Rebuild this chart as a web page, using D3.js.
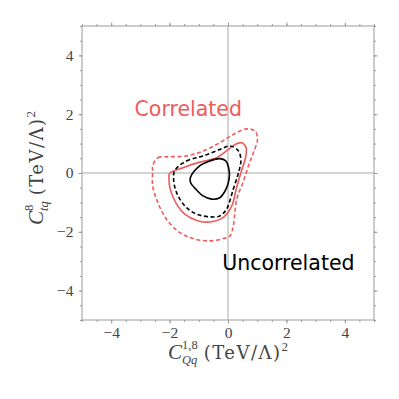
<!DOCTYPE html>
<html><head><meta charset="utf-8">
<script src="https://cdn.jsdelivr.net/npm/d3@7"></script>
<style>body{margin:0;background:#fff}svg{display:block}</style>
</head><body>
<svg id="c" width="399" height="399"></svg>
<script>
const majorTicks = [-4, -2, 0, 2, 4];
const minorTicks = d3.range(-5, 5.01, 0.5);
const labels = [
  {text: "Correlated", x: -3.2, y: 1.95, color: "#f05a5a"},
  {text: "Uncorrelated", x: -0.2, y: -3.3, color: "#000"}
];
// contour traces [x, y]
const blackSolid = [[-1.29,-0.16],[-0.97,0.24],[-0.62,0.41],[-0.28,0.49],[-0.07,0.41],[0.02,0.18],[0.05,-0.05],[0.01,-0.33],[-0.10,-0.61],[-0.28,-0.84],[-0.56,-0.89],[-0.85,-0.78],[-1.10,-0.55],[-1.28,-0.33]];
const blackDashed = [[-1.83,0.07],[-1.42,0.41],[-0.85,0.58],[-0.28,0.80],[0.07,0.92],[0.36,0.75],[0.44,0.41],[0.36,0.01],[0.18,-0.55],[-0.05,-1.23],[-0.28,-1.46],[-0.62,-1.49],[-1.08,-1.40],[-1.42,-1.18],[-1.71,-0.78],[-1.85,-0.33]];
const redSolid = [[-2.0,-0.01],[-1.54,0.18],[-0.97,0.37],[-0.39,0.52],[-0.05,0.75],[0.24,0.97],[0.47,1.03],[0.62,0.86],[0.60,0.52],[0.44,0.01],[0.28,-0.55],[0.13,-1.12],[-0.16,-1.51],[-0.56,-1.66],[-1.02,-1.63],[-1.48,-1.40],[-1.79,-1.01],[-1.98,-0.55],[-2.02,-0.21]];
const redDashed = [[-2.58,0.24],[-2.40,0.52],[-2.0,0.55],[-1.42,0.58],[-0.85,0.75],[-0.28,1.03],[0.18,1.31],[0.64,1.50],[0.93,1.42],[1.01,1.14],[0.87,0.69],[0.70,0.24],[0.51,-0.33],[0.30,-0.89],[0.18,-1.80],[0.07,-2.14],[-0.16,-2.23],[-0.62,-2.31],[-1.20,-2.23],[-1.66,-2.02],[-2.11,-1.57],[-2.40,-1.01],[-2.58,-0.44],[-2.58,0.07]];
const series = [
  {pts: redDashed, color: "#f05a5a", dash: "4,2.6"},
  {pts: redSolid, color: "#f05a5a", dash: null},
  {pts: blackDashed, color: "#000", dash: "4,2.6"},
  {pts: blackSolid, color: "#000", dash: null}
];

const svg = d3.select("#c");
const L = 82, R = 374, T = 26, B = 320;
const x = d3.scaleLinear().domain([-5, 5]).range([L, R]);
const y = d3.scaleLinear().domain([-5, 5]).range([B, T]);
const grey = "#999";

// zero lines
svg.append("line").attr("x1", x(0)).attr("x2", x(0)).attr("y1", T).attr("y2", B).attr("stroke", "#aaa").attr("stroke-width", 1);
svg.append("line").attr("x1", L).attr("x2", R).attr("y1", y(0)).attr("y2", y(0)).attr("stroke", "#aaa").attr("stroke-width", 1);

// contours
const line = d3.line().x(d => x(d[0])).y(d => y(d[1])).curve(d3.curveCatmullRomClosed.alpha(0.5));
series.forEach(s => {
  svg.append("path").attr("d", line(s.pts)).attr("fill", "none")
    .attr("stroke", s.color).attr("stroke-width", 1.6)
    .attr("stroke-dasharray", s.dash);
});

// axes
function styleAxis(g) {
  g.select(".domain").remove();
  g.selectAll("line").attr("stroke", grey);
}
const tickFont = "'Liberation Serif', 'DejaVu Serif', serif";
const labelFont = "'DejaVu Serif', 'Liberation Serif', serif";
const fmt = d => d < 0 ? "\u2212" + Math.abs(d) : String(d);
const bx = svg.append("g").attr("transform", `translate(0,${B})`)
  .call(d3.axisBottom(x).tickValues(majorTicks).tickSize(3.5).tickPadding(3).tickFormat(fmt));
styleAxis(bx);
bx.selectAll("text").attr("font-family", tickFont).attr("font-size", 15.5).attr("fill", "#444");
const bxm = svg.append("g").attr("transform", `translate(0,${B})`)
  .call(d3.axisBottom(x).tickValues(minorTicks).tickSize(2).tickFormat(""));
styleAxis(bxm);
const ly = svg.append("g").attr("transform", `translate(${L},0)`)
  .call(d3.axisLeft(y).tickValues(majorTicks).tickSize(3.5).tickPadding(5).tickFormat(fmt));
styleAxis(ly);
ly.selectAll("text").attr("font-family", tickFont).attr("font-size", 15.5).attr("fill", "#444");
const lym = svg.append("g").attr("transform", `translate(${L},0)`)
  .call(d3.axisLeft(y).tickValues(minorTicks).tickSize(2).tickFormat(""));
styleAxis(lym);
[[majorTicks, 3.5], [minorTicks, 2]].forEach(([tv, ts]) => {
  const g = svg.append("g").attr("transform", `translate(0,${T})`).call(d3.axisTop(x).tickValues(tv).tickSize(ts).tickFormat(""));
  styleAxis(g);
});
[[majorTicks, 3.5], [minorTicks, 2]].forEach(([tv, ts]) => {
  const g = svg.append("g").attr("transform", `translate(${R},0)`).call(d3.axisRight(y).tickValues(tv).tickSize(ts).tickFormat(""));
  styleAxis(g);
});

// frame
svg.append("rect").attr("x", L).attr("y", T).attr("width", R - L).attr("height", B - T)
  .attr("fill", "none").attr("stroke", grey).attr("stroke-width", 1);

// axis titles with stacked sup/sub
function mathLabel(g, sup, sub, rest, targetW) {
  const t = g.append("text").attr("font-family", labelFont).attr("font-size", 18).attr("fill", "#444");
  t.append("tspan").attr("font-family", tickFont).attr("font-size", 21).attr("font-style", "italic").text("C");
  const s1 = t.append("tspan").attr("font-family", tickFont).attr("font-size", 12.5).attr("dy", -10).text(sup);
  const w1 = s1.node().getComputedTextLength();
  const s2 = t.append("tspan").attr("font-family", tickFont).attr("font-size", 12.5).attr("font-style", "italic").attr("dx", -w1).attr("dy", 15).text(sub);
  const w2 = s2.node().getComputedTextLength();
  const back = Math.max(0, w1 - w2);
  const r1 = t.append("tspan").attr("dx", back + 6).attr("dy", -5).text(rest);
  t.append("tspan").attr("font-family", tickFont).attr("font-size", 13).attr("dy", -8).text("2");
  const w = t.node().getBBox().width;
  const n = rest.length;
  r1.attr("letter-spacing", Math.max(0, Math.min(1.5, (targetW - w) / n)));
  return t;
}
function place(t, cx, cy, rot) {
  const bb = t.node().getBBox();
  t.attr("transform", `translate(${cx},${cy}) rotate(${rot}) translate(${-(bb.x + bb.width / 2)},0)`);
}
const xt = mathLabel(svg.append("g"), "1,8", "Qq", "(TeV/\u039B)", 124);
place(xt, x(0), 359, 0);
const yt = mathLabel(svg.append("g"), "8", "tq", "(TeV/\u039B)", 128);
place(yt, 43, 168, -90);

// annotations
labels.forEach(l => {
  svg.append("text").attr("x", x(l.x)).attr("y", y(l.y))
    .attr("font-family", "'DejaVu Sans', sans-serif").attr("font-size", 20.5)
    .attr("fill", l.color).text(l.text);
});
</script>
</body></html>
